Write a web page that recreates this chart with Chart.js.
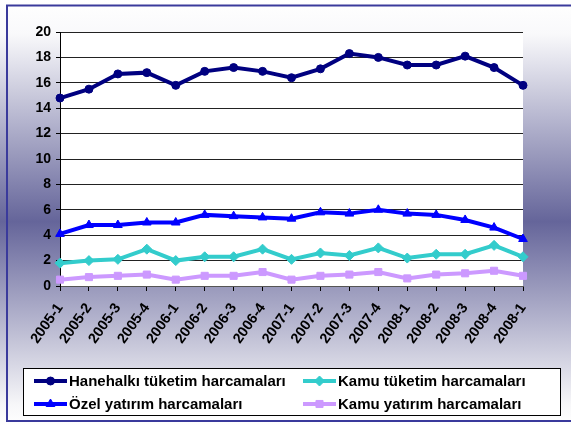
<!DOCTYPE html>
<html>
<head>
<meta charset="utf-8">
<script src="https://cdn.jsdelivr.net/npm/chart.js@4/dist/chart.umd.min.js"></script>
<style>
html,body{margin:0;padding:0;background:#fff;}
#wrap{position:relative;width:571px;height:426px;}
</style>
</head>
<body>
<div id="wrap"><canvas id="c" width="571" height="426"></canvas></div>
<script>
const categories = ["2005-1","2005-2","2005-3","2005-4","2006-1","2006-2","2006-3","2006-4","2007-1","2007-2","2007-3","2007-4","2008-1","2008-2","2008-3","2008-4","2008-1"];
const hanehalki = [14.8,15.5,16.7,16.8,15.8,16.9,17.2,16.9,16.4,17.1,18.3,18.0,17.4,17.4,18.1,17.2,15.8];
const ozelYatirim = [4.1,4.8,4.8,5.0,5.0,5.6,5.5,5.4,5.3,5.8,5.7,6.0,5.7,5.6,5.2,4.6,3.7];
const kamuTuketim = [1.8,2.0,2.1,2.9,2.0,2.3,2.3,2.9,2.1,2.6,2.4,3.0,2.2,2.5,2.5,3.2,2.3];
const kamuYatirim = [0.5,0.7,0.8,0.9,0.5,0.8,0.8,1.1,0.5,0.8,0.9,1.1,0.6,0.9,1.0,1.2,0.8];
const seriesNames = ["Hanehalkı tüketim harcamaları","Özel yatırım harcamaları","Kamu tüketim harcamaları","Kamu yatırım harcamaları"];
const yTicks = [0,2,4,6,8,10,12,14,16,18,20];

const FONT = "Arial, 'Liberation Sans', sans-serif";

function ds(label, data, color, style, r){
  return {label, data, borderColor: color, backgroundColor: color, borderWidth: 4,
    pointStyle: style, pointRadius: r, pointHoverRadius: r, pointBorderWidth: 1,
    pointBorderColor: color, pointBackgroundColor: color, tension: 0, fill: false};
}

const bgPlugin = {
  id: 'bg',
  beforeDraw(chart){
    const ctx = chart.ctx, W = chart.width, H = chart.height;
    ctx.save();
    const g = ctx.createLinearGradient(0,0,0,H);
    g.addColorStop(0,'#ffffff');
    g.addColorStop(0.08,'#f9f9fb');
    g.addColorStop(0.52,'#65659a');
    g.addColorStop(0.95,'#f7f7f9');
    g.addColorStop(1,'#ffffff');
    ctx.fillStyle = g;
    ctx.fillRect(0,0,W,H);
    const a = chart.chartArea;
    ctx.fillStyle = '#ffffff';
    ctx.fillRect(a.left, a.top, a.right-a.left, a.bottom-a.top);
    ctx.restore();
  },
  afterDraw(chart){
    const ctx = chart.ctx;
    ctx.save();
    // frame
    ctx.strokeStyle = '#3a3a9c';
    ctx.lineWidth = 2;
    ctx.strokeRect(7, 5.5, 600, 415.5);
    // legend box
    ctx.fillStyle = '#ffffff';
    ctx.fillRect(23.5, 368.5, 537, 47);
    ctx.strokeStyle = '#000000';
    ctx.lineWidth = 1;
    ctx.strokeRect(23.5, 368.5, 537, 47);
    const pos = [[34,381],[34,404],[303,381],[303,404]];
    chart.data.datasets.forEach((d,i)=>{
      const [x,y] = pos[i];
      ctx.strokeStyle = d.borderColor;
      ctx.lineWidth = 4;
      ctx.beginPath(); ctx.moveTo(x,y); ctx.lineTo(x+33,y); ctx.stroke();
      ctx.fillStyle = d.backgroundColor;
      ctx.lineWidth = 1;
      Chart.helpers.drawPoint(ctx, {pointStyle: d.pointStyle, radius: d.pointRadius, borderWidth: 1}, x+16.5, y);
      ctx.fillStyle = '#000';
      ctx.font = "bold 15px " + FONT;
      ctx.textBaseline = 'middle';
      ctx.textAlign = 'left';
      ctx.fillText(d.label, x+35, y+1);
    });
    ctx.restore();
  }
};

new Chart(document.getElementById('c'), {
  type: 'line',
  data: {
    labels: categories,
    datasets: [
      ds(seriesNames[0], hanehalki, '#000080', 'circle', 4),
      ds(seriesNames[1], ozelYatirim, '#0000ff', 'triangle', 5),
      ds(seriesNames[2], kamuTuketim, '#33cccc', 'rectRot', 5),
      ds(seriesNames[3], kamuYatirim, '#cc99ff', 'rect', 5)
    ]
  },
  options: {
    responsive: false,
    devicePixelRatio: 1,
    animation: false,
    layout: {padding: {top: 32, right: 48, left: 0, bottom: 0}},
    plugins: {legend: {display: false}, tooltip: {enabled: false}},
    scales: {
      x: {
        offset: false,
        grid: {drawOnChartArea: false, drawTicks: true, tickLength: 5, tickColor: '#000', color: '#000'},
        border: {color: '#555', width: 1},
        ticks: {color: '#000', font: {family: FONT, weight: 'bold', size: 14.5}, minRotation: 55, maxRotation: 55, autoSkip: false, padding: 9},
        afterFit(s){ s.height = 140; }
      },
      y: {
        min: 0, max: 20,
        afterBuildTicks(s){ s.ticks = yTicks.map(v=>({value: v})); },
        grid: {color: '#222', lineWidth: 1, tickLength: 4, tickColor: '#000'},
        border: {color: '#000', width: 1},
        ticks: {color: '#000', font: {family: FONT, weight: 'bold', size: 14}, padding: 5},
        afterFit(s){ s.width = 60; }
      }
    }
  },
  plugins: [bgPlugin]
});
</script>
</body>
</html>
